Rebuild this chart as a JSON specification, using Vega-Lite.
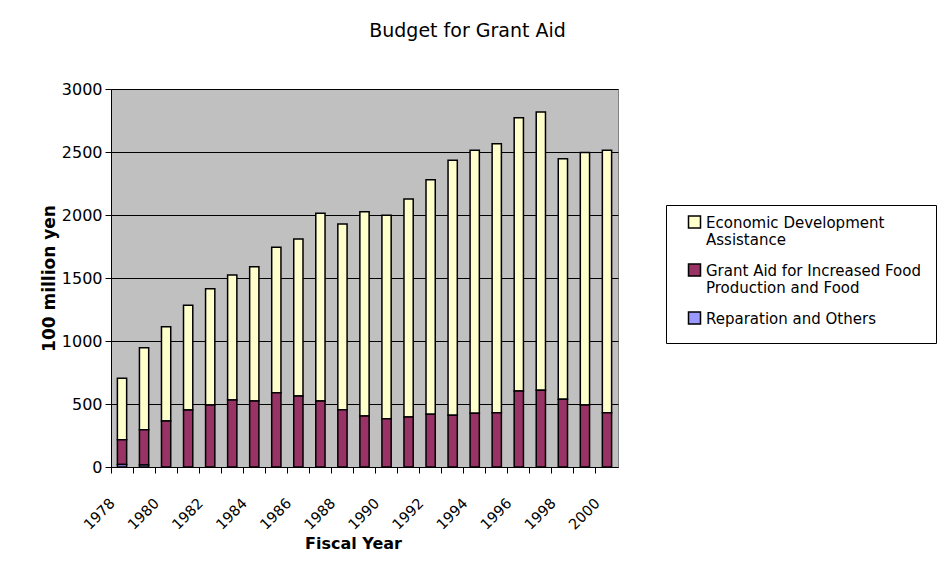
{
  "$schema": "https://vega.github.io/schema/vega-lite/v6.json",
  "autosize": "none",
  "width": 507,
  "height": 378,
  "padding": {"left": 111, "top": 89, "right": 322, "bottom": 110},
  "background": "white",
  "title": {"text": "Budget for Grant Aid", "anchor": "middle", "dx": 103, "offset": 40, "fontSize": 19, "font": "DejaVu Sans", "fontWeight": "normal", "color": "black"},
  "data": {"values": [
    {"year": "1978", "category": "Economic Development Assistance", "value": 487},
    {"year": "1978", "category": "Grant Aid for Increased Food Production and Food", "value": 197},
    {"year": "1978", "category": "Reparation and Others", "value": 20},
    {"year": "1979", "category": "Economic Development Assistance", "value": 651},
    {"year": "1979", "category": "Grant Aid for Increased Food Production and Food", "value": 281},
    {"year": "1979", "category": "Reparation and Others", "value": 15},
    {"year": "1980", "category": "Economic Development Assistance", "value": 749},
    {"year": "1980", "category": "Grant Aid for Increased Food Production and Food", "value": 365},
    {"year": "1981", "category": "Economic Development Assistance", "value": 831},
    {"year": "1981", "category": "Grant Aid for Increased Food Production and Food", "value": 452},
    {"year": "1982", "category": "Economic Development Assistance", "value": 923},
    {"year": "1982", "category": "Grant Aid for Increased Food Production and Food", "value": 492},
    {"year": "1983", "category": "Economic Development Assistance", "value": 992},
    {"year": "1983", "category": "Grant Aid for Increased Food Production and Food", "value": 532},
    {"year": "1984", "category": "Economic Development Assistance", "value": 1066},
    {"year": "1984", "category": "Grant Aid for Increased Food Production and Food", "value": 524},
    {"year": "1985", "category": "Economic Development Assistance", "value": 1154},
    {"year": "1985", "category": "Grant Aid for Increased Food Production and Food", "value": 590},
    {"year": "1986", "category": "Economic Development Assistance", "value": 1247},
    {"year": "1986", "category": "Grant Aid for Increased Food Production and Food", "value": 563},
    {"year": "1987", "category": "Economic Development Assistance", "value": 1489},
    {"year": "1987", "category": "Grant Aid for Increased Food Production and Food", "value": 524},
    {"year": "1988", "category": "Economic Development Assistance", "value": 1474},
    {"year": "1988", "category": "Grant Aid for Increased Food Production and Food", "value": 455},
    {"year": "1989", "category": "Economic Development Assistance", "value": 1621},
    {"year": "1989", "category": "Grant Aid for Increased Food Production and Food", "value": 405},
    {"year": "1990", "category": "Economic Development Assistance", "value": 1615},
    {"year": "1990", "category": "Grant Aid for Increased Food Production and Food", "value": 383},
    {"year": "1991", "category": "Economic Development Assistance", "value": 1730},
    {"year": "1991", "category": "Grant Aid for Increased Food Production and Food", "value": 397},
    {"year": "1992", "category": "Economic Development Assistance", "value": 1862},
    {"year": "1992", "category": "Grant Aid for Increased Food Production and Food", "value": 418},
    {"year": "1993", "category": "Economic Development Assistance", "value": 2024},
    {"year": "1993", "category": "Grant Aid for Increased Food Production and Food", "value": 410},
    {"year": "1994", "category": "Economic Development Assistance", "value": 2087},
    {"year": "1994", "category": "Grant Aid for Increased Food Production and Food", "value": 426},
    {"year": "1995", "category": "Economic Development Assistance", "value": 2135},
    {"year": "1995", "category": "Grant Aid for Increased Food Production and Food", "value": 431},
    {"year": "1996", "category": "Economic Development Assistance", "value": 2169},
    {"year": "1996", "category": "Grant Aid for Increased Food Production and Food", "value": 603},
    {"year": "1997", "category": "Economic Development Assistance", "value": 2208},
    {"year": "1997", "category": "Grant Aid for Increased Food Production and Food", "value": 609},
    {"year": "1998", "category": "Economic Development Assistance", "value": 1910},
    {"year": "1998", "category": "Grant Aid for Increased Food Production and Food", "value": 537},
    {"year": "1999", "category": "Economic Development Assistance", "value": 2004},
    {"year": "1999", "category": "Grant Aid for Increased Food Production and Food", "value": 492},
    {"year": "2000", "category": "Economic Development Assistance", "value": 2082},
    {"year": "2000", "category": "Grant Aid for Increased Food Production and Food", "value": 431}
  ]},
  "mark": {"type": "bar", "width": {"band": 0.42}, "stroke": "black", "strokeWidth": 1.5},
  "encoding": {
    "x": {
      "field": "year", "type": "ordinal", "title": "Fiscal Year",
      "scale": {"paddingInner": 0, "paddingOuter": 0},
      "axis": {
        "bandPosition": 0, "labelAngle": -45, "labelAlign": "right", "labelBaseline": "middle",
        "labelOffset": -9, "labelPadding": 28, "labelOverlap": false, "labelFontSize": 14.5,
        "labelExpr": "datum.value % 2 == 0 ? datum.label : ''",
        "tickSize": 6, "grid": false,
        "titleX": 242, "titleY": 76, "titleBaseline": "middle", "titleAlign": "center"
      }
    },
    "y": {
      "field": "value", "type": "quantitative", "stack": "zero", "title": "100 million yen",
      "scale": {"domain": [0, 3000], "nice": false},
      "axis": {
        "values": [0, 500, 1000, 1500, 2000, 2500, 3000], "format": "d",
        "tickSize": 6, "labelPadding": 3, "grid": true, "gridColor": "black", "gridWidth": 1, "gridOpacity": 1,
        "titleX": -62, "titleY": 189, "titleBaseline": "middle", "titleAlign": "center", "titleAngle": -90, "titleFontSize": 17
      }
    },
    "color": {
      "field": "category", "type": "nominal",
      "scale": {
        "domain": ["Economic Development Assistance", "Grant Aid for Increased Food Production and Food", "Reparation and Others"],
        "range": ["#FFFFCC", "#993366", "#9999FF"]
      },
      "legend": {
        "title": null, "orient": "none", "legendX": 555, "legendY": 116,
        "strokeColor": "black", "fillColor": "white", "padding": 15,
        "symbolType": "M-1,-1.9H1V0.1H-1Z", "symbolSize": 144, "symbolStrokeColor": "black", "symbolStrokeWidth": 1.5,
        "symbolOpacity": 1, "symbolOffset": 6,
        "labelFont": "DejaVu Sans", "labelFontSize": 15, "labelColor": "black", "labelLimit": 400,
        "labelExpr": "datum.label == 'Economic Development Assistance' ? ['Economic Development', 'Assistance'] : datum.label == 'Grant Aid for Increased Food Production and Food' ? ['Grant Aid for Increased Food', 'Production and Food'] : datum.label",
        "labelLineHeight": 20, "labelBaseline": "alphabetic", "rowPadding": 13, "labelOffset": 4
      }
    },
    "order": {"field": "category", "sort": "descending"}
  },
  "config": {
    "view": {"fill": "#C0C0C0", "stroke": "#808080", "strokeWidth": 1},
    "axis": {
      "labelFont": "DejaVu Sans", "labelFontSize": 16, "labelColor": "black",
      "titleFont": "DejaVu Sans", "titleFontSize": 16, "titleFontWeight": "bold", "titleColor": "black",
      "domainColor": "black", "domainWidth": 1, "tickColor": "black", "tickWidth": 1
    }
  }
}
